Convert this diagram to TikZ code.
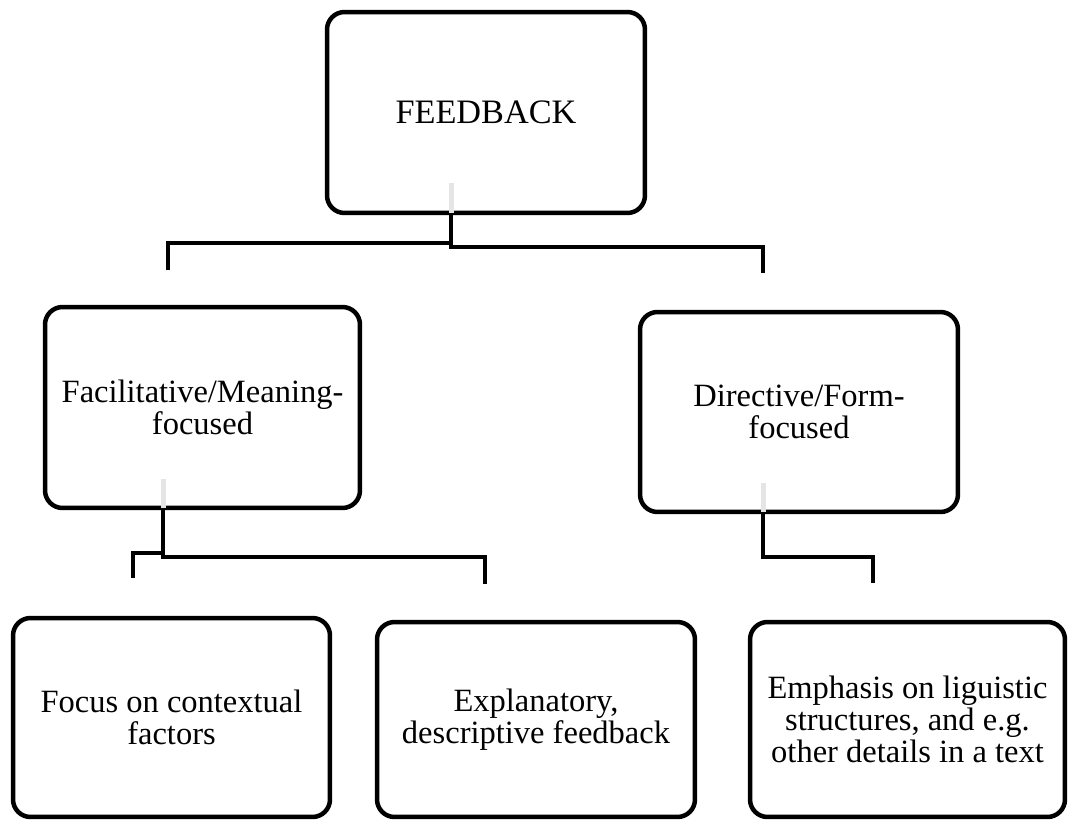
\documentclass[tikz,border=0pt]{standalone}
\usepackage{fontspec}
\setmainfont{Liberation Serif}
\usepackage{tikz}
\usetikzlibrary{positioning,calc}

\begin{document}
\begin{tikzpicture}[
    x=0.02cm, y=-0.02cm,
    box/.style={rectangle, draw, line width=0.09cm, rounded corners=0.35cm, align=center,
        inner sep=0pt, outer sep=0pt, font=\fontsize{18.5}{18.3}\selectfont},
    line/.style={draw, line width=0.09cm},
    stub/.style={draw, line width=0.1cm, black!10}
]
\useasboundingbox (0,0) rectangle (1069,821);

% ----------------------------
% Nodes
% ----------------------------
\node[box, minimum width=6.36cm, minimum height=4.02cm, font=\fontsize{19.5}{20}\selectfont] (feedback) at (486,112.5) {FEEDBACK};

\node[box, minimum width=6.3cm, minimum height=4.02cm] (facil) at (202.5,407.5) {Facilitative/Meaning-\\focused};
\node[box, minimum width=6.36cm, minimum height=4.0cm] (direct) at (799,412) {Directive/Form-\\focused};

\node[box, minimum width=6.34cm, minimum height=3.98cm] (context) at (171.5,717.5) {Focus on contextual\\factors};
\node[box, minimum width=6.36cm, minimum height=3.9cm] (explain) at (536,719.5) {Explanatory,\\descriptive feedback};
\node[box, minimum width=6.3cm, minimum height=3.9cm] (linguistic) at (907.5,719.5) {Emphasis on liguistic\\structures, and e.g.\\other details in a text};

% free ends above the child boxes
\coordinate (facil-in) at (168,270);
\coordinate (direct-in) at (763,273);
\coordinate (context-in) at (133,578);
\coordinate (explain-in) at (485,584);
\coordinate (linguistic-in) at (873,583);

% ----------------------------
% Edges
% ----------------------------
\path[stub] ([xshift=-0.7cm]feedback.south) -- ++(0,-30);
\path[stub] ([xshift=-0.79cm]facil.south) -- ++(0,-29);
\path[stub] ([xshift=-0.72cm]direct.south) -- ++(0,-29);

\path[line] ([xshift=-0.7cm]feedback.south) -- ++(0,30) -| (facil-in);
\path[line] ([xshift=-0.7cm]feedback.south) -- ++(0,34) -| (direct-in);

\path[line] ([xshift=-0.79cm]facil.south) -- ++(0,45) -| (context-in);
\path[line] ([xshift=-0.79cm]facil.south) -- ++(0,49) -| (explain-in);

\path[line] ([xshift=-0.72cm]direct.south) -- ++(0,45) -| (linguistic-in);

\end{tikzpicture}
\end{document}
